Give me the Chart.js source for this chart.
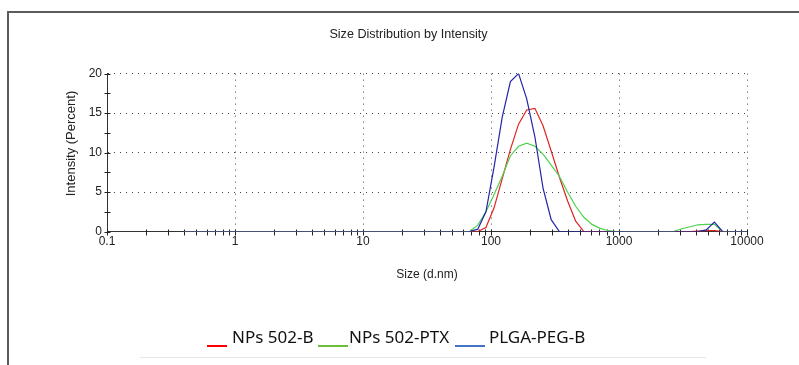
<!DOCTYPE html>
<html>
<head>
<meta charset="utf-8">
<title>Size Distribution by Intensity</title>
<script src="https://cdn.jsdelivr.net/npm/chart.js@4.4.0/dist/chart.umd.min.js"></script>
<style>
	body { margin: 0; background: #fff; }
	#root { position: relative; width: 799px; height: 365px; overflow: hidden; }
	#main-chart { position: absolute; left: 0; top: 0; }
	.frame-top { position: absolute; left: 7px; top: 11px; width: 792px; height: 2px; background: #5c5c5c; }
	.frame-left { position: absolute; left: 7px; top: 11px; width: 2px; height: 354px; background: #5c5c5c; }
	.legend { position: absolute; left: 0; top: 0; font-family: "Noto Sans", "Open Sans", sans-serif; font-size: 17px; color: #111; }
	.legend span { position: absolute; white-space: nowrap; line-height: 20px; }
	.legend .mark { height: 2px; line-height: 0; }
	.legend-rule { position: absolute; left: 140px; top: 357px; width: 566px; height: 1px; background: #e6e6e6; }
</style>
</head>
<body>
<div id="root">
	<canvas id="main-chart" width="799" height="365"></canvas>
	<div class="frame-top"></div>
	<div class="frame-left"></div>
	<div class="legend">
		<span class="mark" style="left:207px; top:345px; width:20px; background:#ff0000;"></span>
		<span style="left:232px; top:327px;">NPs 502-B</span>
		<span class="mark" style="left:318px; top:345px; width:30px; background:#6cbf3c;"></span>
		<span style="left:349px; top:327px;">NPs 502-PTX</span>
		<span class="mark" style="left:455px; top:345px; width:30px; background:#4472c4;"></span>
		<span style="left:489px; top:327px;">PLGA-PEG-B</span>
	</div>
	<div class="legend-rule"></div>
</div>
<script>
// size classes (d.nm) of the instrument, log spaced
const sizes = [0.4, 0.4632, 0.5365, 0.6213, 0.7195, 0.8332, 0.9649, 1.117, 1.294, 1.499,
	1.736, 2.01, 2.328, 2.696, 3.122, 3.615, 4.187, 4.849, 5.615, 6.503,
	7.531, 8.721, 10.1, 11.7, 13.54, 15.69, 18.17, 21.04, 24.36, 28.21,
	32.67, 37.84, 43.82, 50.75, 58.77, 68.06, 78.82, 91.28, 105.7, 122.4,
	141.8, 164.2, 190.1, 220.2, 255.0, 295.3, 342.0, 396.1, 458.7, 531.2,
	615.1, 712.4, 825.0, 955.4, 1106, 1281, 1484, 1718, 1990, 2305,
	2669, 3091, 3580, 4145, 4801, 5560, 6439, 7456, 8635, 10000];

// intensity (%) per size class
const npsB = [0, 0, 0, 0, 0, 0, 0, 0, 0, 0,
	0, 0, 0, 0, 0, 0, 0, 0, 0, 0,
	0, 0, 0, 0, 0, 0, 0, 0, 0, 0,
	0, 0, 0, 0, 0, 0, 0, 0.5, 3.0, 6.7,
	10.4, 13.6, 15.4, 15.6, 13.4, 10.2, 6.9, 3.9, 1.3, 0,
	0, 0, 0, 0, 0, 0, 0, 0, 0, 0,
	0, 0, 0, 0.05, 0.1, 0.1, 0, 0, 0, 0];

const npsPtx = [0, 0, 0, 0, 0, 0, 0, 0, 0, 0,
	0, 0, 0, 0, 0, 0, 0, 0, 0, 0,
	0, 0, 0, 0, 0, 0, 0, 0, 0, 0,
	0, 0, 0, 0, 0, 0, 0.8, 2.5, 4.7, 7.0,
	9.6, 10.8, 11.2, 10.8, 9.8, 8.4, 7.0, 5.0, 3.2, 1.8,
	0.9, 0.4, 0.1, 0, 0, 0, 0, 0, 0, 0,
	0, 0.35, 0.6, 0.85, 0.9, 0.9, 0, 0, 0, 0];

const plgaPegB = [0, 0, 0, 0, 0, 0, 0, 0, 0, 0,
	0, 0, 0, 0, 0, 0, 0, 0, 0, 0,
	0, 0, 0, 0, 0, 0, 0, 0, 0, 0,
	0, 0, 0, 0, 0, 0, 0.3, 2.5, 8.2, 14.5,
	19.0, 20.0, 16.8, 12.0, 5.5, 1.5, 0, 0, 0, 0,
	0, 0, 0, 0, 0, 0, 0, 0, 0, 0,
	0, 0, 0, 0, 0.2, 1.2, 0, 0, 0, 0];

const xMajor = [0.1, 1, 10, 100, 1000, 10000];
const xTickLabels = ['0.1', '1', '10', '100', '1000', '10000'];
const yMin = 0;
const yMax = 20;

const fontFamily = '"Liberation Sans", Arial, sans-serif';
const textFont = { family: fontFamily, size: 12, weight: 'normal' };

const toPoints = vals => sizes.map((s, i) => ({ x: s, y: vals[i] }));

// small crossing ticks on both axes, like the instrument software draws them
const tickMarks = {
	id: 'tickMarks',
	beforeDatasetsDraw(chart) {
		const ctx = chart.ctx;
		const xs = chart.scales.x;
		const ys = chart.scales.y;
		const y0 = Math.round(ys.getPixelForValue(yMin)) + 0.5;
		const x0 = Math.round(xs.getPixelForValue(xMajor[0])) + 0.5;
		ctx.save();
		ctx.strokeStyle = '#222';
		ctx.lineWidth = 1;
		ctx.beginPath();
		xs.ticks.forEach(t => {
			const px = Math.round(xs.getPixelForValue(t.value)) + 0.5;
			ctx.moveTo(px, y0 - 3);
			ctx.lineTo(px, y0 + 3);
		});
		ys.ticks.forEach(t => {
			const py = Math.round(ys.getPixelForValue(t.value)) + 0.5;
			ctx.moveTo(x0 - 3, py);
			ctx.lineTo(x0 + 3, py);
		});
		ctx.stroke();
		ctx.restore();
	}
};

const ctx = document.getElementById('main-chart');

new Chart(ctx, {
	type: 'line',
	data: {
		datasets: [
			{ label: 'PLGA-PEG-B', data: toPoints(plgaPegB), borderColor: '#2424a8', order: 0 },
			{ label: 'NPs 502-PTX', data: toPoints(npsPtx), borderColor: '#4fd04f', order: 1 },
			{ label: 'NPs 502-B', data: toPoints(npsB), borderColor: '#e02424', order: 2 }
		]
	},
	options: {
		responsive: false,
		animation: false,
		events: [],
		elements: {
			line: { borderWidth: 1.2, tension: 0, fill: false },
			point: { radius: 0 }
		},
		// left padding moves the title centre to where the original has it
		layout: { padding: { left: 18, right: 0, top: 0, bottom: 0 } },
		plugins: {
			legend: { display: false },
			tooltip: { enabled: false },
			title: {
				display: true,
				text: 'Size Distribution by Intensity',
				color: '#222',
				font: { family: fontFamily, size: 12.6, weight: 'normal' },
				padding: { top: 26.5, bottom: 32 }
			}
		},
		scales: {
			x: {
				type: 'logarithmic',
				min: 0.1,
				max: 10000,
				afterFit(scale) { scale.height = 133.5; },
				afterBuildTicks(scale) {
					const ticks = [];
					xMajor.forEach((m, i) => {
						ticks.push({ value: m });
						if (i < xMajor.length - 1) {
							for (let k = 2; k <= 9; k++) ticks.push({ value: m * k });
						}
					});
					scale.ticks = ticks;
				},
				ticks: {
					autoSkip: false,
					maxRotation: 0,
					padding: 3,
					color: '#222',
					font: textFont,
					callback: (value) => {
						const j = xMajor.indexOf(value);
						return j >= 0 ? xTickLabels[j] : '';
					}
				},
				grid: {
					drawTicks: false,
					color: '#444',
					lineWidth: c => (c.tick && xMajor.includes(c.tick.value)) ? 1 : 0
				},
				border: { display: true, color: '#333', width: 1, dash: [1, 5] },
				title: {
					display: true,
					text: 'Size (d.nm)',
					color: '#222',
					font: textFont,
					padding: { top: 0, bottom: 82.8 }
				}
			},
			y: {
				min: yMin,
				max: yMax,
				afterFit(scale) { scale.width = 89; },
				ticks: {
					stepSize: 2.5,
					padding: 5,
					color: '#222',
					font: textFont,
					callback: v => (v % 5 === 0 ? v : '')
				},
				grid: {
					drawTicks: false,
					color: '#444',
					lineWidth: c => (c.tick && c.tick.value % 5 === 0 && c.tick.value > 0) ? 1 : 0
				},
				border: { display: true, color: '#333', width: 1, dash: [1, 5] },
				title: {
					display: true,
					// leading spaces lift the label a little, as in the original
					text: '     Intensity (Percent)',
					color: '#222',
					font: { family: fontFamily, size: 13, weight: 'normal' },
					padding: { top: 46, bottom: 0 }
				}
			},
			// empty right axis, only keeps the gap right of the plot
			gap: {
				type: 'linear',
				position: 'right',
				display: true,
				afterFit(scale) { scale.width = 52; },
				ticks: { display: false },
				grid: { display: false, drawTicks: false },
				border: { display: false }
			}
		}
	},
	plugins: [tickMarks]
});
</script>
</body>
</html>
